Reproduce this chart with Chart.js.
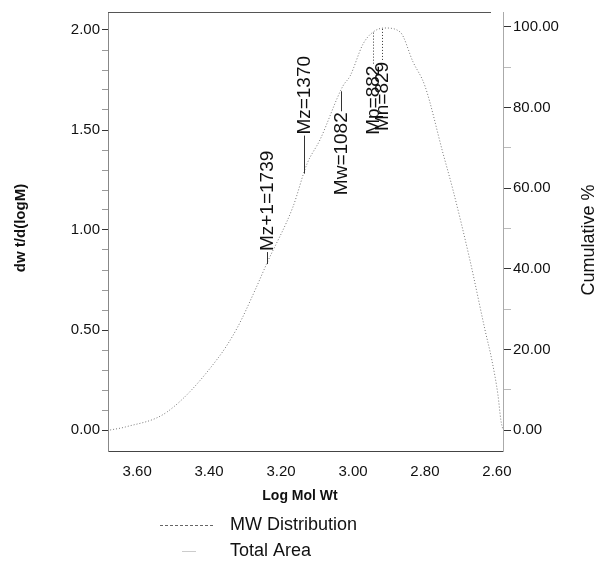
<!DOCTYPE html>
<html>
<head>
<meta charset="utf-8">
<script src="https://cdn.jsdelivr.net/npm/chart.js@4.4.1/dist/chart.umd.min.js"></script>
<style>
  html, body { margin: 0; padding: 0; background: #fff; }
</style>
</head>
<body>
<canvas id="gpc" width="602" height="567"></canvas>
<script>
// values (log MW vs dwt/d(logM))
const logMolWt = [3.675, 3.633, 3.517, 3.375, 3.322, 3.272, 3.239, 3.167, 3.128, 3.092, 3.028, 3.008, 2.972, 2.944, 2.911, 2.869, 2.833, 2.800, 2.750, 2.722, 2.675, 2.633, 2.614, 2.597, 2.589, 2.583]
const mwDist   = [0.00, 0.015, 0.09, 0.36, 0.51, 0.70, 0.835, 1.115, 1.33, 1.45, 1.72, 1.77, 1.93, 1.99, 2.01, 1.99, 1.84, 1.72, 1.385, 1.20, 0.85, 0.50, 0.35, 0.175, 0.05, 0.00]
const totalArea = []   // not visible in the scan, legend only

const xTicks = [3.6, 3.4, 3.2, 3.0, 2.8, 2.6]
const leftTicks = [0, 0.1, 0.2, 0.3, 0.4, 0.5, 0.6, 0.7, 0.8, 0.9, 1.0, 1.1, 1.2, 1.3, 1.4, 1.5, 1.6, 1.7, 1.8, 1.9, 2.0]
const rightTicks = [0, 10, 20, 30, 40, 50, 60, 70, 80, 90, 100]

const avgNames  = ['Mz+1', 'Mz', 'Mw', 'Mp', 'Mn']
const avgValues = [1739, 1370, 1082, 882, 829]

const FONT = "'Liberation Sans', Arial, sans-serif"

let zip = (xs, ys) => xs.map((x, i) => ({x: x, y: ys[i]}))

// only used to anchor the average labels on the trace
function traceAt(lx) {
    for (let i = 0; i < logMolWt.length - 1; i++) {
        let a = logMolWt[i], b = logMolWt[i + 1]
        if (lx <= a && lx >= b) {
            let t = (a - lx) / (a - b)
            return mwDist[i] + t * (mwDist[i + 1] - mwDist[i])
        }
    }
    return 0
}

const labelStyle = {
    'Mz+1': {side: 'above', gap: 12},
    'Mz':   {side: 'above', gap: 38},
    'Mw':   {side: 'below', gap: 20},
    'Mp':   {side: 'below', gap: 32},
    'Mn':   {side: 'below', gap: 32}
}

const decorations = {
    id: 'decorations',
    afterDatasetsDraw(chart) {
        const ctx = chart.ctx
        const a = chart.chartArea
        const x = chart.scales.x, y = chart.scales.y

        ctx.save()
        // top frame line
        ctx.strokeStyle = '#555'
        ctx.lineWidth = 1
        ctx.beginPath()
        ctx.moveTo(a.left, a.top + 0.5)
        ctx.lineTo(a.right - 12, a.top + 0.5)
        ctx.stroke()

        // average MW markers
        ctx.fillStyle = '#111'
        ctx.font = '19px ' + FONT
        ctx.textBaseline = 'middle'
        avgNames.forEach((name, i) => {
            let lx = Math.log10(avgValues[i])
            let px = Math.round(x.getPixelForValue(lx)) + 0.5
            let py = y.getPixelForValue(traceAt(lx))
            let st = labelStyle[name]
            ctx.beginPath()
            ctx.strokeStyle = '#333'
            ctx.setLineDash(name === 'Mp' || name === 'Mn' ? [1, 2] : [])
            let end = st.side === 'above' ? py - st.gap : py + st.gap
            ctx.moveTo(px, py)
            ctx.lineTo(px, end)
            ctx.stroke()
            ctx.setLineDash([])
            ctx.save()
            ctx.translate(px, end)
            ctx.rotate(-Math.PI / 2)
            ctx.textAlign = st.side === 'above' ? 'left' : 'right'
            ctx.fillText(name + '=' + avgValues[i], st.side === 'above' ? 1 : -1, 0)
            ctx.restore()
        })

        // axis titles
        ctx.fillStyle = '#111'
        ctx.textAlign = 'center'
        ctx.font = 'bold 15px ' + FONT
        ctx.save()
        ctx.translate(21, 228)
        ctx.rotate(-Math.PI / 2)
        ctx.fillText('dw t/d(logM)', 0, 0)
        ctx.restore()

        ctx.font = '18px ' + FONT
        ctx.save()
        ctx.translate(589, 240)
        ctx.rotate(-Math.PI / 2)
        ctx.fillText('Cumulative %', 0, 0)
        ctx.restore()

        ctx.font = 'bold 14px ' + FONT
        ctx.fillText('Log Mol Wt', 300, 496)

        // legend, stacked like the original
        const rows = [525, 551]
        chart.data.datasets.forEach((ds, i) => {
            ctx.strokeStyle = i === 0 ? '#666' : '#ccc'
            ctx.setLineDash(i === 0 ? [3, 2] : [])
            ctx.beginPath()
            if (i === 0) { ctx.moveTo(160, rows[i] + 0.5); ctx.lineTo(215, rows[i] + 0.5) }
            else { ctx.moveTo(182, rows[i] + 0.5); ctx.lineTo(196, rows[i] + 0.5) }
            ctx.stroke()
            ctx.setLineDash([])
            ctx.fillStyle = '#111'
            ctx.font = '18px ' + FONT
            ctx.textAlign = 'left'
            ctx.fillText(ds.label, 230, rows[i])
        })
        ctx.restore()
    }
}

const ctx = document.getElementById('gpc')
const chart = new Chart(ctx, {
    type: 'line',
    data: {
        datasets: [
            {
                label: 'MW Distribution',
                data: zip(logMolWt, mwDist),
                yAxisID: 'y',
                borderColor: '#777',
                borderWidth: 1,
                borderDash: [1, 2],
                pointRadius: 0,
                fill: false,
                cubicInterpolationMode: 'monotone'
            }, {
                label: 'Total Area',
                data: totalArea,
                yAxisID: 'y2',
                borderColor: '#ddd',
                borderWidth: 1,
                pointRadius: 0,
                fill: false
            }
        ]
    },
    options: {
        responsive: false,
        animation: false,
        layout: { padding: { top: 12, left: 0, right: 0, bottom: 0 } },
        plugins: { legend: { display: false }, tooltip: { enabled: false } },
        scales: {
            x: {
                type: 'linear',
                reverse: true,
                min: 2.583,
                max: 3.681,
                afterBuildTicks: s => { s.ticks = xTicks.map(v => ({value: v})) },
                afterFit: s => { s.height = 116 },
                ticks: {
                    color: '#111',
                    font: { family: FONT, size: 15 },
                    padding: 12,
                    maxRotation: 0,
                    callback: v => v.toFixed(2)
                },
                grid: { display: true, drawOnChartArea: false, drawTicks: false },
                border: { display: true, color: '#444', width: 1 }
            },
            y: {
                position: 'left',
                min: -0.105,
                max: 2.09,
                afterBuildTicks: s => { s.ticks = leftTicks.map(v => ({value: v})) },
                afterFit: s => { s.width = 108 },
                ticks: {
                    color: '#111',
                    font: { family: FONT, size: 15 },
                    padding: 2,
                    autoSkip: false,
                    callback: v => Math.abs(v * 2 - Math.round(v * 2)) < 1e-6 ? v.toFixed(2) : ''
                },
                grid: {
                    drawOnChartArea: false,
                    tickLength: 6,
                    color: c => Math.abs(c.tick.value * 2 - Math.round(c.tick.value * 2)) < 1e-6 ? '#333' : '#999'
                },
                border: { display: true, color: '#888', dash: [1, 2] }
            },
            y2: {
                position: 'right',
                min: -5.2,
                max: 103.7,
                afterBuildTicks: s => { s.ticks = rightTicks.map(v => ({value: v})) },
                afterFit: s => { s.width = 99 },
                ticks: {
                    color: '#111',
                    font: { family: FONT, size: 15 },
                    padding: 2,
                    autoSkip: false,
                    callback: v => v % 20 === 0 ? v.toFixed(2) : ''
                },
                grid: {
                    drawOnChartArea: false,
                    tickLength: 8,
                    color: c => c.tick.value % 20 === 0 ? '#333' : '#bbb'
                },
                border: { display: true, color: '#aaa', dash: [1, 2] }
            }
        }
    },
    plugins: [decorations]
})
</script>
</body>
</html>
